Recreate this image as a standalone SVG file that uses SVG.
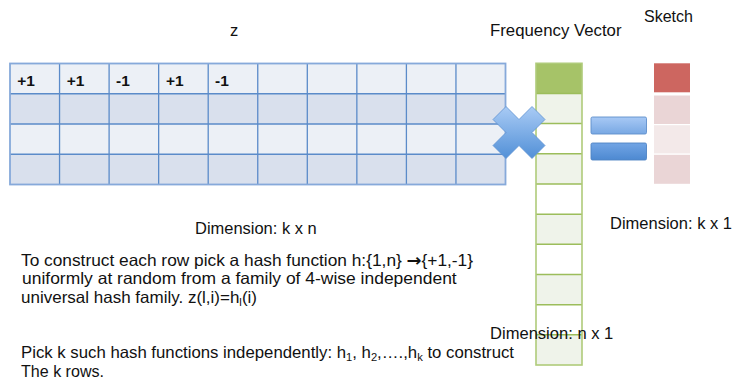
<svg xmlns="http://www.w3.org/2000/svg" width="734" height="381" viewBox="0 0 734 381">
<defs>
<style>
.t{font-family:"Liberation Sans","DejaVu Sans",Arial,sans-serif;font-size:16.5px;fill:#111}
.v{font-family:"Liberation Sans",Arial,sans-serif;font-size:15.5px;font-weight:bold;fill:#111}
.rl{fill:#ECF0F6}
.rd{fill:#D9E0ED}
.gl{stroke:#5B8BC9;stroke-width:1.3;fill:none}
.fv{stroke:#9CBD5B;stroke-width:1.5}
.sub{font-size:11px}
.arw{font-family:"DejaVu Sans",sans-serif;font-weight:bold;font-size:17px}
</style>
<linearGradient id="gx" x1="0" y1="0" x2="0" y2="1">
<stop offset="0" stop-color="#A9CBF5"/>
<stop offset="1" stop-color="#5290D7"/>
</linearGradient>
<linearGradient id="ge1" x1="0" y1="0" x2="0" y2="1">
<stop offset="0" stop-color="#A8C9F5"/>
<stop offset="1" stop-color="#78A8E3"/>
</linearGradient>
<linearGradient id="ge2" x1="0" y1="0" x2="0" y2="1">
<stop offset="0" stop-color="#72A5E5"/>
<stop offset="1" stop-color="#4D89D1"/>
</linearGradient>
</defs>

<g id="matrix-z">
<rect class="rl" x="10" y="63.5" width="495.5" height="30.25"/>
<rect class="rd" x="10" y="93.75" width="495.5" height="30.25"/>
<rect class="rl" x="10" y="124" width="495.5" height="30.25"/>
<rect class="rd" x="10" y="154.25" width="495.5" height="30.25"/>
<path class="gl" d="M59.55 63.5V184.5M109.1 63.5V184.5M158.65 63.5V184.5M208.2 63.5V184.5M257.75 63.5V184.5M307.3 63.5V184.5M356.85 63.5V184.5M406.4 63.5V184.5M455.95 63.5V184.5M10 93.75H505.5M10 124H505.5M10 154.25H505.5"/>
<rect x="10" y="63.5" width="495.5" height="121" fill="none" stroke="#86A9DA" stroke-width="1.8"/>
<text class="v" x="17.3" y="85.7">+1</text>
<text class="v" x="66.7" y="85.7">+1</text>
<text class="v" x="116" y="85.7">-1</text>
<text class="v" x="166" y="85.7">+1</text>
<text class="v" x="215" y="85.7">-1</text>
</g>

<g id="frequency-vector">
<rect x="536" y="63.3" width="46" height="30.2" fill="#A6C368"/>
<rect x="536" y="93.5" width="46" height="30.1" fill="#EFF3EA"/>
<rect x="536" y="123.6" width="46" height="30.2" fill="#FFFFFF"/>
<rect x="536" y="153.8" width="46" height="30.2" fill="#EFF3EA"/>
<rect x="536" y="184" width="46" height="30.2" fill="#FFFFFF"/>
<rect x="536" y="214.2" width="46" height="30.1" fill="#EFF3EA"/>
<rect x="536" y="244.3" width="46" height="30.2" fill="#FFFFFF"/>
<rect x="536" y="274.5" width="46" height="30.2" fill="#EFF3EA"/>
<rect x="536" y="304.7" width="46" height="30.1" fill="#FFFFFF"/>
<rect x="536" y="334.8" width="46" height="30.2" fill="#EFF3EA"/>
<path class="fv" fill="none" d="M536 93.5H582M536 123.6H582M536 153.8H582M536 184H582M536 214.2H582M536 244.3H582M536 274.5H582M536 304.7H582M536 334.8H582"/>
<rect x="536" y="63.3" width="46" height="301.7" fill="none" stroke="#AFCB7A" stroke-width="1.6"/>
</g>

<g id="sketch">
<rect x="654" y="63.3" width="36" height="29" fill="#CD6660"/>
<rect x="654" y="95.5" width="36" height="28.5" fill="#EAD5D6"/>
<rect x="654" y="125.2" width="36" height="28.2" fill="#F3E9E9"/>
<rect x="654" y="154.8" width="36" height="29" fill="#EAD5D6"/>
</g>

<g id="times-sign">
<polygon transform="translate(519 132.5)" points="-26,-13 -13,-26 0,-13 13,-26 26,-13 13,0 26,13 13,26 0,13 -13,26 -26,13 -13,0" fill="url(#gx)" stroke="#5E92D2" stroke-width="0.8" stroke-linejoin="round"/>
</g>

<g id="equals-sign">
<rect x="591" y="117" width="55.5" height="17" rx="1.5" fill="url(#ge1)" stroke="#5F8FCB" stroke-width="0.9"/>
<rect x="591" y="143" width="55.5" height="17" rx="1.5" fill="url(#ge2)" stroke="#4F83C4" stroke-width="0.9"/>
</g>

<g id="labels">
<text class="t" x="230" y="36">z</text>
<text class="t" x="490" y="36" textLength="131.5" lengthAdjust="spacingAndGlyphs">Frequency Vector</text>
<text class="t" x="644" y="21.5" textLength="49" lengthAdjust="spacingAndGlyphs">Sketch</text>
<text class="t" x="195" y="233.5" textLength="121.7" lengthAdjust="spacingAndGlyphs">Dimension: k x n</text>
<text class="t" x="610" y="229" textLength="122" lengthAdjust="spacingAndGlyphs">Dimension: k x 1</text>
<text class="t" x="490" y="338.5" textLength="123.3" lengthAdjust="spacingAndGlyphs">Dimension: n x 1</text>
<text class="t" x="21" y="265.5" textLength="452" lengthAdjust="spacingAndGlyphs">To construct each row pick a hash function h:{1,n} <tspan class="arw">→</tspan>{+1,-1}</text>
<text class="t" x="22" y="284" textLength="434.7" lengthAdjust="spacingAndGlyphs">uniformly at random from a family of 4-wise independent</text>
<text class="t" x="21" y="302.5" textLength="236" lengthAdjust="spacingAndGlyphs">universal hash family. z(l,i)=h<tspan class="sub" dy="3">l</tspan><tspan dy="-3">(i)</tspan></text>
<text class="t" x="21" y="357.5" textLength="493" lengthAdjust="spacingAndGlyphs">Pick k such hash functions independently: h<tspan class="sub" dy="3">1</tspan><tspan dy="-3">, h</tspan><tspan class="sub" dy="3">2</tspan><tspan dy="-3">,….,h</tspan><tspan class="sub" dy="3">k</tspan><tspan dy="-3"> to construct</tspan></text>
<text class="t" x="21" y="376.5" textLength="83" lengthAdjust="spacingAndGlyphs">The k rows.</text>
</g>
</svg>
